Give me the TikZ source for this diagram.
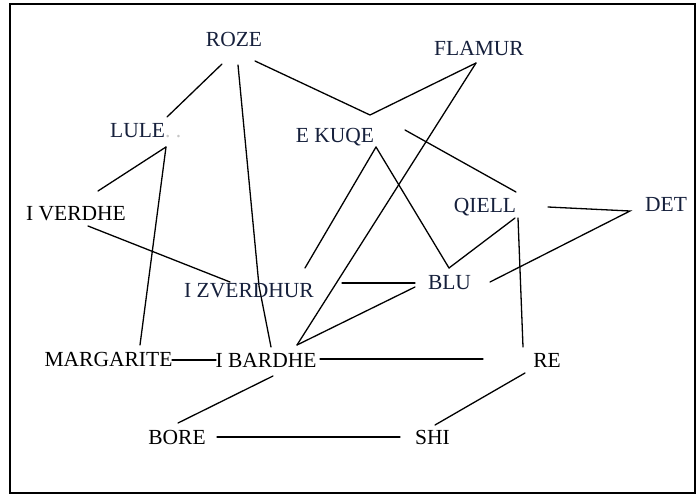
\documentclass[tikz,border=0pt]{standalone}
\usepackage{fontspec}
\setmainfont{Liberation Serif}
\begin{document}
\begin{tikzpicture}[x=1pt,y=-1pt,
  word/.style={anchor=base,inner sep=0pt,font=\fontsize{21.5}{23}\selectfont},
  navy/.style={text=wordnavy},
  link/.style={line width=1.3pt,line cap=round}]
\definecolor{wordnavy}{HTML}{16203C}
\useasboundingbox (0,0) rectangle (698,495);
\draw[line width=1.5pt] (10,4) rectangle (695,493);

% connector end points
\coordinate (rz1) at (222,64);   \coordinate (rz2) at (238,65);   \coordinate (rz3) at (255,61);
\coordinate (fl1) at (476,63);
\coordinate (lu1) at (167,117);  \coordinate (lu2) at (166,147);
\coordinate (ek1) at (370,115);  \coordinate (ek2) at (376,147);  \coordinate (ek3) at (405,130);
\coordinate (iv1) at (98,191);   \coordinate (iv2) at (88,226);
\coordinate (qi1) at (516,192);  \coordinate (qi2) at (548,207);  \coordinate (qi3) at (515,218);  \coordinate (qi4) at (518,218);
\coordinate (de1) at (630,211);
\coordinate (zv1) at (305,268);  \coordinate (zv2) at (230,282);  \coordinate (zv3) at (342,283);  \coordinate (zv4) at (259,286);
\coordinate (bl1) at (449,268);  \coordinate (bl2) at (490,282);  \coordinate (bl3) at (415,283);  \coordinate (bl4) at (415,287);
\coordinate (ma1) at (140,345);  \coordinate (ma2) at (172,360);
\coordinate (ib1) at (271,347);  \coordinate (ib2) at (297,345);  \coordinate (ib3) at (216,360);  \coordinate (ib4) at (320,359);  \coordinate (ib5) at (273,376);
\coordinate (re1) at (523,347);  \coordinate (re2) at (483,359);  \coordinate (re3) at (525,373);
\coordinate (bo1) at (178,423);  \coordinate (bo2) at (217,437);
\coordinate (sh1) at (435,425);  \coordinate (sh2) at (400,437);

% connectors
\draw[link] (rz1) -- (lu1);
\draw[link] (rz2) -- (zv4) -- (ib1);
\draw[link] (rz3) -- (ek1) -- (fl1);
\draw[link] (fl1) -- (ib2);
\draw[link] (ek2) -- (zv1);
\draw[link] (ek2) -- (bl1);
\draw[link] (ek3) -- (qi1);
\draw[link] (qi2) -- (de1) -- (bl2);
\draw[link] (qi3) -- (bl1);
\draw[link] (qi4) -- (re1);
\draw[link] (re3) -- (sh1);
\draw[link] (bo2) -- (sh2);
\draw[link] (bo1) -- (ib5);
\draw[link] (ib4) -- (re2);
\draw[link] (ma2) -- (ib3);
\draw[link] (ib2) -- (bl4);
\draw[link] (zv3) -- (bl3);
\draw[link] (lu2) -- (iv1);
\draw[link] (lu2) -- (ma1);
\draw[link] (iv2) -- (zv2);

% words
\node[word,navy] (roze) at (234,47) {ROZE};
\node[word,navy] (flamur) at (479,56) {FLAMUR};
\node[word,navy,anchor=base west] (lule) at (110,137) {LULE{\color{gray!45}. .}};
\node[word,navy] (ekuqe) at (335,142) {E KUQE};
\node[word] (iverdhe) at (76,220) {I VERDHE};
\node[word,navy] (qiell) at (485,212) {QIELL};
\node[word,navy] (det) at (666,211) {DET};
\node[word,navy] (izverdhur) at (249,297) {I ZVERDHUR};
\node[word,navy] (blu) at (449.5,289) {BLU};
\node[word] (margarite) at (108.5,366) {MARGARITE};
\node[word] (ibardhe) at (266,367) {I BARDHE};
\node[word] (re) at (547,367) {RE};
\node[word] (bore) at (177,444) {BORE};
\node[word] (shi) at (432.5,444) {SHI};
\end{tikzpicture}
\end{document}
